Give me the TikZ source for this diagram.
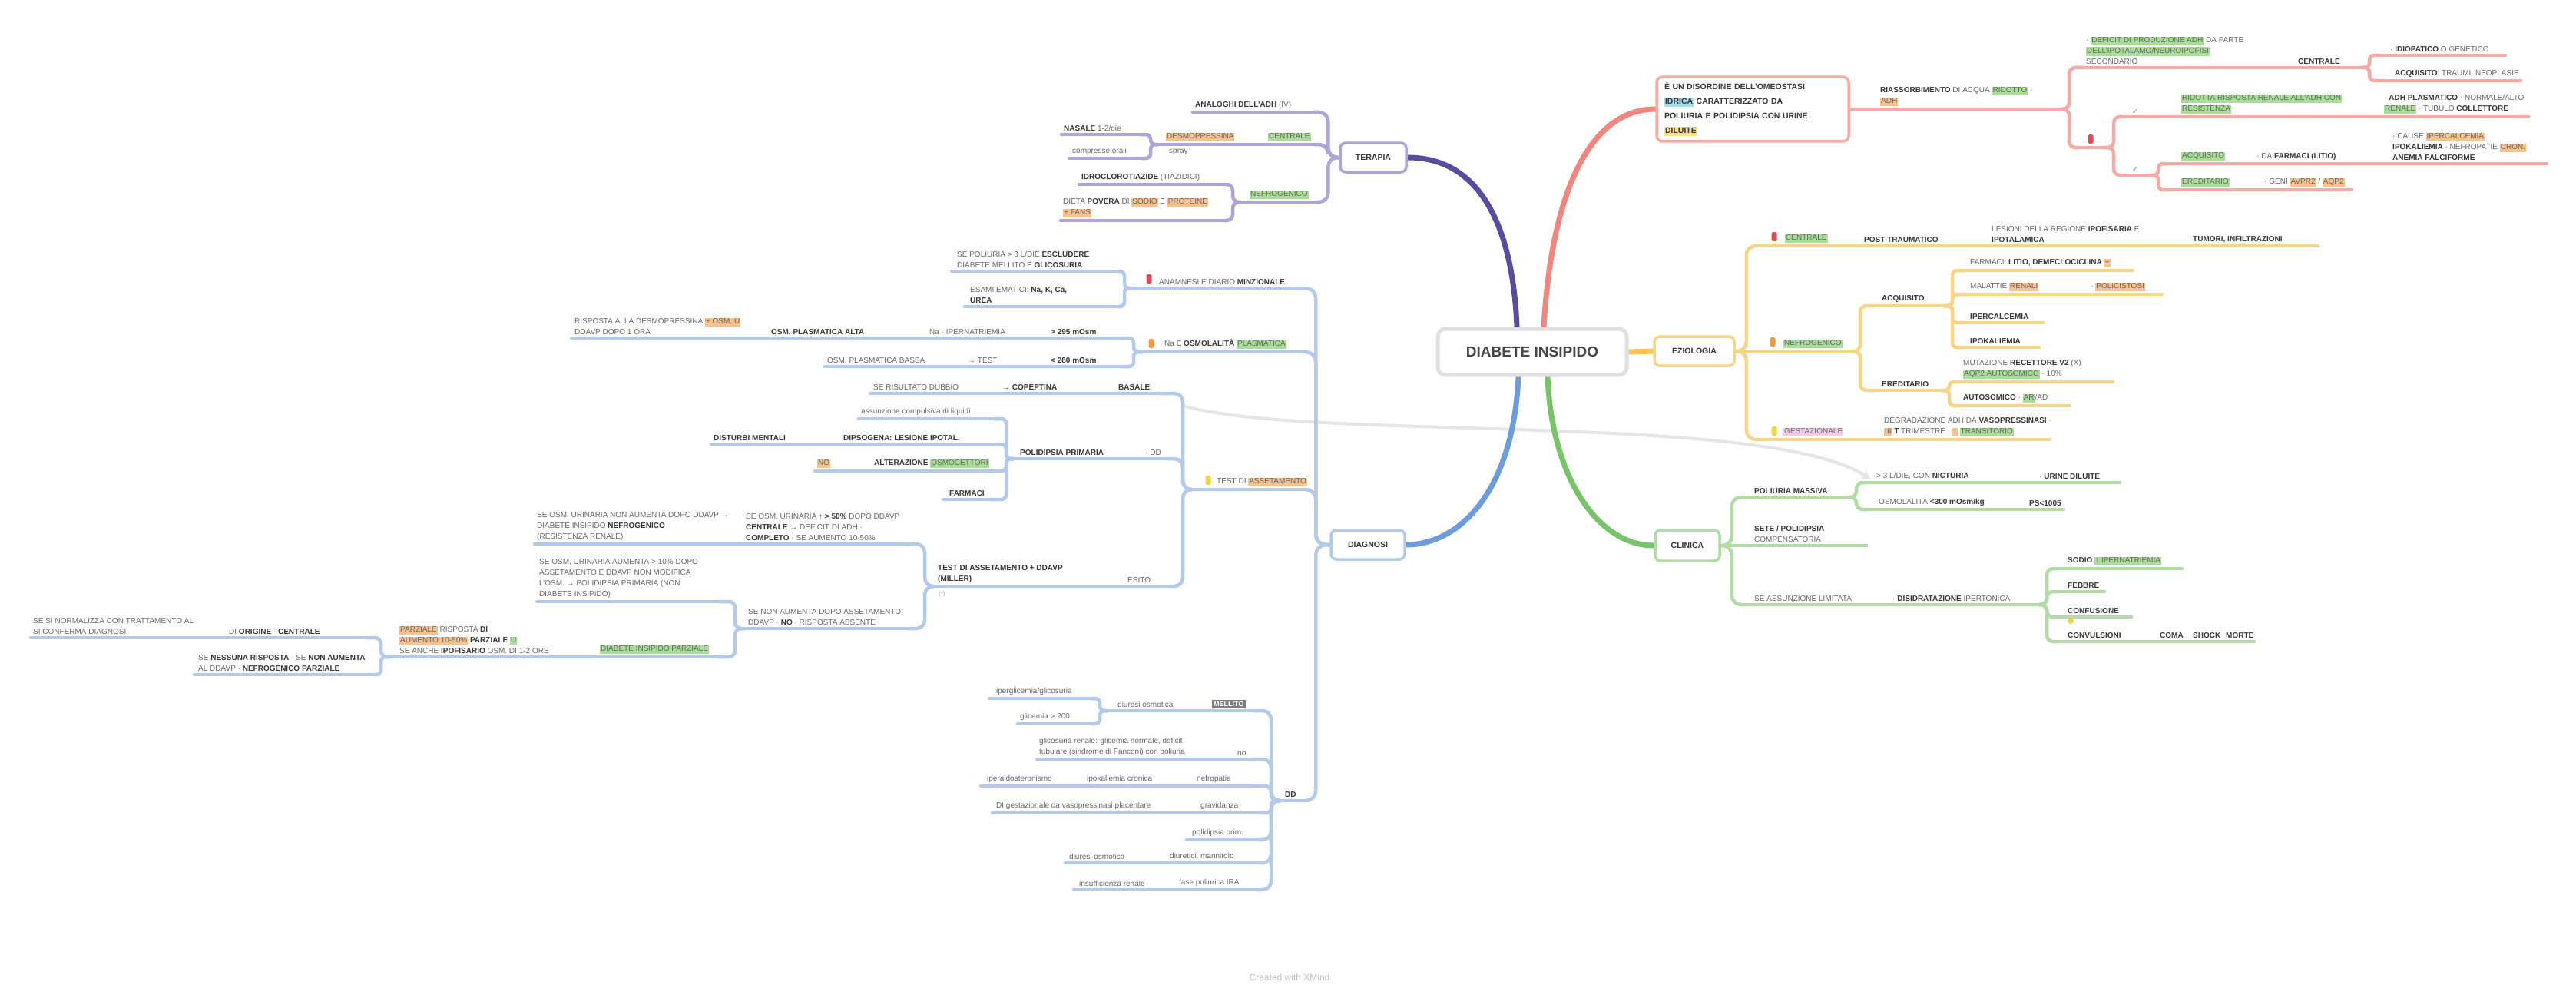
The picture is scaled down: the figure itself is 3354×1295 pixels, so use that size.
\documentclass[tikz,border=0pt]{standalone}
\usepackage{fontspec}
\setmainfont{Liberation Sans}
\newfontfamily\djv{DejaVu Sans}
\usetikzlibrary{calc,arrows.meta}
\pgfdeclarelayer{bg}
\pgfsetlayers{bg,main}
\definecolor{cRed}{HTML}{F5AAA4}
\definecolor{cRedM}{HTML}{F2857D}
\definecolor{cPur}{HTML}{AEA3DA}
\definecolor{cPurM}{HTML}{5B4B9E}
\definecolor{cYel}{HTML}{F8D584}
\definecolor{cYelM}{HTML}{F6C655}
\definecolor{cGrn}{HTML}{B2DCA5}
\definecolor{cGrnM}{HTML}{78C468}
\definecolor{cBlu}{HTML}{B3CAEA}
\definecolor{cBluM}{HTML}{6C9CDB}
\definecolor{hG}{HTML}{A9DE98}
\definecolor{hO}{HTML}{F8C28C}
\definecolor{hC}{HTML}{A6DDEE}
\definecolor{hY}{HTML}{F8E38A}
\definecolor{hP}{HTML}{F7CDEB}
\definecolor{hD}{HTML}{7E7E7E}
\definecolor{tx}{HTML}{666666}
\definecolor{tb}{HTML}{363636}
\definecolor{mkR}{HTML}{E5484D}
\definecolor{mkO}{HTML}{F29B38}
\definecolor{mkY}{HTML}{F2D43D}
\definecolor{chk}{HTML}{4CAF50}
\newcommand\hl[2]{{\setlength{\fboxsep}{1pt}\colorbox{#1}{\vphantom{Ag}#2}}}
\newcommand\B[1]{\textbf{\textcolor{tb}{#1}}}
\newcommand\UL[5]{\coordinate (#1l) at (#2,#4);\coordinate (#1r) at (#3,#4);\draw[ul,#5] (#1l) -- (#1r);}
\newcommand\TX[4]{\node[txt] (#1) at (#2,#3) {#4};}
\newcommand\CN[5][8]{\draw[cn,#2,rounded corners=#1pt] (#3) -- ++(#4,0) |- (#5);}
\newcommand\MK[4]{\node[rectangle,rounded corners=2.5pt,fill=#4,inner sep=0pt,minimum width=7pt,minimum height=12pt] (#1) at (#2,#3) {};}
\begin{document}
\begin{tikzpicture}[x=1pt,y=-1pt,
 txt/.style={inner sep=0pt,anchor=south west,align=left,font=\fontsize{10}{14}\selectfont,text=tx},
 ul/.style={line width=4.5pt,line cap=round},
 cn/.style={line width=4.5pt},
 mainln/.style={line width=7pt,line cap=round},
 topbox/.style={draw,line width=3.5pt,rounded corners=7pt,fill=white,inner xsep=8pt,inner ysep=6pt,font=\fontsize{10.5}{14}\selectfont\bfseries,text=tb}]
\useasboundingbox (0,0) rectangle (3354,1295);

% ---------- center ----------
\node[draw=black!12,line width=5pt,rounded corners=10pt,fill=white,minimum width=246pt,minimum height=60pt,font=\fontsize{19}{22}\selectfont\bfseries,text=black!72] (root) at (1995,458) {DIABETE INSIPIDO};

% ---------- TERAPIA ----------
\node[topbox,draw=cPur,minimum width=86pt,minimum height=38pt] (ter) at (1788,205) {TERAPIA};
\UL{t1}{1553}{1711}{146}{cPur}
\TX{t1x}{1556}{142}{\B{ANALOGHI DELL'ADH} (IV)}
\UL{t2}{1508}{1711}{188}{cPur}
\TX{t2g}{1651}{184}{\hl{hG}{CENTRALE}}
\TX{t2o}{1518}{184}{\hl{hO}{DESMOPRESSINA}}
\node[txt,anchor=north west] (t2s) at (1522,194) {spray};
\UL{t2a}{1382}{1484}{175}{cPur}
\TX{t2ax}{1385}{171}{\B{NASALE} 1-2/die}
\UL{t2b}{1392}{1486}{206}{cPur}
\TX{t2bx}{1396}{202}{compresse orali}
\UL{t3}{1615}{1715}{263}{cPur}
\TX{t3g}{1627}{259}{\hl{hG}{NEFROGENICO}}
\UL{t3a}{1405}{1595}{240}{cPur}
\TX{t3ax}{1408}{236}{\B{IDROCLOROTIAZIDE} (TIAZIDICI)}
\UL{t3b}{1381}{1594}{287}{cPur}
\TX{t3bx}{1384}{283}{DIETA \B{POVERA} DI \hl{hO}{SODIO} E \hl{hO}{PROTEINE}\\\hl{hO}{+ FANS}}

% ---------- RED ----------
\node[topbox,draw=cRed,text width=230pt,font=\fontsize{10.5}{19}\selectfont\bfseries,inner xsep=10pt,inner ysep=7pt] (rbox) at (2282,142) {È UN \B{DISORDINE} DELL'OMEOSTASI\\\hl{hC}{IDRICA} CARATTERIZZATO DA\\POLIURIA E POLIDIPSIA CON URINE\\\hl{hY}{DILUITE}};
\UL{r1}{2409}{2684}{142}{cRed}
\TX{r1x}{2448}{138}{\B{RIASSORBIMENTO} DI ACQUA \hl{hG}{RIDOTTO} ·\\\hl{hO}{ADH}}
\UL{r2}{2712}{3075}{88}{cRed}
\TX{r2x}{2716}{84}{· \hl{hG}{DEFICIT DI PRODUZIONE ADH} DA PARTE\\\hl{hG}{DELL'IPOTALAMO/NEUROIPOFISI}\\SECONDARIO}
\TX{r2c}{2992}{84}{\B{CENTRALE}}
\UL{r2a}{3098}{3262}{72}{cRed}
\TX{r2ax}{3112}{68}{· \B{IDIOPATICO} O GENETICO}
\UL{r2b}{3098}{3282}{105}{cRed}
\TX{r2bx}{3118}{101}{\B{ACQUISITO}: TRAUMI, NEOPLASIE}
\MK{r3m}{2722}{181}{mkR}
\UL{r3}{2706}{2742}{192}{cRed}
\UL{r3a}{2762}{3292}{152}{cRed}
\node[txt] (r3ack) at (2776,149) {\djv\textcolor{chk}{✓}};
\TX{r3ax}{2840}{148}{\hl{hG}{RIDOTTA RISPOSTA RENALE ALL'ADH CON}\\\hl{hG}{RESISTENZA}}
\TX{r3ay}{3104}{148}{· \B{ADH PLASMATICO} · NORMALE/ALTO\\\hl{hG}{RENALE} · TUBULO \B{COLLETTORE}}
\UL{r3b}{2762}{2800}{228}{cRed}
\node[txt] (r3bck) at (2776,224) {\djv\textcolor{chk}{✓}};
\UL{r3c}{2822}{3316}{213}{cRed}
\TX{r3cx}{2840}{209}{\hl{hG}{ACQUISITO}}
\TX{r3cy}{2938}{209}{· DA \B{FARMACI (LITIO)}}
\TX{r3cz}{3115}{209}{· CAUSE \hl{hO}{IPERCALCEMIA}\\\B{IPOKALIEMIA} · NEFROPATIE \hl{hO}{CRON.}\\\B{ANEMIA FALCIFORME}}
\UL{r3d}{2822}{3062}{247}{cRed}
\TX{r3dx}{2840}{243}{\hl{hG}{EREDITARIO}}
\TX{r3dy}{2948}{243}{· GENI \hl{hO}{AVPR2} / \hl{hO}{AQP2}}

% ---------- YELLOW ----------
\node[topbox,draw=cYel,minimum width=104pt,minimum height=38pt] (ezi) at (2206,457) {EZIOLOGIA};
\UL{y1}{2290}{3018}{320}{cYel}
\MK{y1m}{2310}{308}{mkR}
\TX{y1g}{2324}{316}{\hl{hG}{CENTRALE}}
\TX{y1a}{2427}{316}{\B{POST-TRAUMATICO} ·}
\TX{y1b}{2593}{316}{LESIONI DELLA REGIONE \B{IPOFISARIA} E\\\B{IPOTALAMICA}}
\TX{y1c}{2855}{316}{\B{TUMORI, INFILTRAZIONI}}
\UL{y2}{2258}{2410}{457}{cYel}
\MK{y2m}{2308}{445}{mkO}
\TX{y2g}{2322}{453}{\hl{hG}{NEFROGENICO}}
\UL{y2a}{2440}{2530}{398}{cYel}
\TX{y2ax}{2450}{394}{\B{ACQUISITO}}
\UL{y2a1}{2558}{2777}{352}{cYel}
\TX{y2a1x}{2565}{348}{FARMACI: \B{LITIO, DEMECLOCICLINA} \hl{hO}{+}}
\UL{y2a2}{2558}{2815}{383}{cYel}
\TX{y2a2x}{2565}{379}{MALATTIE \hl{hO}{RENALI}}
\TX{y2a2y}{2722}{379}{· \hl{hO}{POLICISTOSI}}
\UL{y2a3}{2558}{2660}{420}{cYel}
\TX{y2a3x}{2565}{416}{\B{IPERCALCEMIA}}
\UL{y2a4}{2558}{2655}{452}{cYel}
\TX{y2a4x}{2565}{448}{\B{IPOKALIEMIA}}
\UL{y2b}{2440}{2528}{508}{cYel}
\TX{y2bx}{2450}{504}{\B{EREDITARIO}}
\UL{y2b1}{2552}{2751}{497}{cYel}
\TX{y2b1x}{2556}{493}{MUTAZIONE \B{RECETTORE V2} (X)\\\hl{hG}{AQP2 AUTOSOMICO} · 10\%}
\UL{y2b2}{2552}{2694}{528}{cYel}
\TX{y2b2x}{2556}{524}{\B{AUTOSOMICO} · \hl{hG}{AR}/AD}
\UL{y3}{2290}{2668}{572}{cYel}
\MK{y3m}{2310}{561}{mkY}
\TX{y3g}{2322}{568}{\hl{hP}{GESTAZIONALE}}
\TX{y3x}{2453}{568}{DEGRADAZIONE ADH DA \B{VASOPRESSINASI} ·\\\hl{hO}{III} \B{T} TRIMESTRE · \hl{hO}{↑} \hl{hG}{TRANSITORIO}}

% ---------- GREEN ----------
\node[topbox,draw=cGrn,minimum width=84pt,minimum height=40pt] (cli) at (2197,710) {CLINICA};
\UL{g1}{2271}{2407}{647}{cGrn}
\TX{g1x}{2284}{643}{\B{POLIURIA MASSIVA}}
\UL{g1a}{2430}{2760}{628}{cGrn}
\TX{g1ax}{2443}{624}{> 3 L/DIE, CON \B{NICTURIA}}
\TX{g1ay}{2655}{624}{· \B{URINE DILUITE}}
\UL{g1b}{2430}{2687}{663}{cGrn}
\TX{g1bx}{2446}{659}{OSMOLALITÀ \B{<300 mOsm/kg}}
\TX{g1by}{2642}{659}{\B{PS<1005}}
\UL{g2}{2239}{2430}{710}{cGrn}
\TX{g2x}{2284}{706}{\B{SETE / POLIDIPSIA}\\COMPENSATORIA}
\UL{g3}{2271}{2655}{787}{cGrn}
\TX{g3x}{2284}{783}{SE ASSUNZIONE LIMITATA}
\TX{g3y}{2464}{783}{· \B{DISIDRATAZIONE} IPERTONICA}
\UL{g3a}{2680}{2841}{740}{cGrn}
\TX{g3ax}{2692}{736}{\B{SODIO} \hl{hG}{↑ IPERNATRIEMIA}}
\UL{g3b}{2680}{2740}{770}{cGrn}
\TX{g3bx}{2692}{766}{\B{FEBBRE}}
\UL{g3c}{2680}{2775}{803}{cGrn}
\TX{g3cx}{2692}{799}{\B{CONFUSIONE}}
\node[circle,fill=mkY,inner sep=0pt,minimum size=8pt] (g3cm) at (2696,808) {};
\UL{g3d}{2680}{2935}{835}{cGrn}
\TX{g3dx}{2692}{831}{\B{CONVULSIONI}}
\TX{g3dy}{2812}{831}{\B{COMA}}
\TX{g3dz}{2855}{831}{\B{SHOCK}}
\TX{g3dw}{2898}{831}{\B{MORTE}}

% ---------- BLUE ----------
\node[topbox,draw=cBlu,minimum width=96pt,minimum height=38pt] (dia) at (1781,709) {DIAGNOSI};
\UL{d1}{1474}{1698}{375}{cBlu}
\MK{d1m}{1496}{363}{mkR}
\TX{d1x}{1509}{371}{ANAMNESI E DIARIO \B{MINZIONALE}}
\UL{d1a}{1239}{1455}{353}{cBlu}
\TX{d1ax}{1246}{349}{SE POLIURIA > 3 L/DIE \B{ESCLUDERE}\\DIABETE MELLITO E \B{GLICOSURIA}}
\UL{d1b}{1256}{1455}{399}{cBlu}
\TX{d1bx}{1263}{395}{ESAMI EMATICI: \B{Na, K, Ca,}\\\B{UREA}}
\UL{d2}{1488}{1701}{458}{cBlu}
\MK{d2m}{1499}{447}{mkO}
\TX{d2x}{1516}{454}{Na E \B{OSMOLALITÀ} \hl{hG}{PLASMATICA}}
\UL{d2a}{744}{1460}{440}{cBlu}
\TX{d2ax}{748}{436}{RISPOSTA ALLA DESMOPRESSINA \hl{hO}{+ OSM. U}\\DDAVP DOPO 1 ORA}
\TX{d2ay}{1004}{436}{\B{OSM. PLASMATICA ALTA}}
\TX{d2az}{1210}{436}{Na · IPERNATRIEMIA}
\TX{d2aw}{1368}{436}{\B{> 295 mOsm}}
\UL{d2b}{1074}{1460}{477}{cBlu}
\TX{d2bx}{1077}{473}{OSM. PLASMATICA BASSA}
\TX{d2by}{1260}{473}{→ TEST}
\TX{d2bz}{1368}{473}{\B{< 280 mOsm}}
\UL{dy}{1552}{1700}{637}{cBlu}
\MK{dym}{1573}{625}{mkY}
\TX{dyx}{1584}{633}{TEST DI \hl{hO}{ASSETAMENTO}}
\UL{d3}{1133}{1511}{512}{cBlu}
\TX{d3x}{1137}{508}{SE RISULTATO DUBBIO}
\TX{d3y}{1305}{508}{\B{→ COPEPTINA}}
\TX{d3z}{1456}{508}{\B{BASALE}}
\coordinate (relS) at (1540,528);
\UL{d4}{1320}{1520}{597}{cBlu}
\TX{d4x}{1328}{593}{\B{POLIDIPSIA PRIMARIA}}
\TX{d4y}{1491}{593}{· DD}
\UL{d4a}{1118}{1294}{545}{cBlu}
\TX{d4ax}{1121}{541}{assunzione compulsiva di liquidi}
\UL{d4b}{926}{1298}{578}{cBlu}
\TX{d4bx}{929}{574}{\B{DISTURBI MENTALI}}
\TX{d4by}{1098}{574}{\B{DIPSOGENA: LESIONE IPOTAL.}}
\UL{d4c}{1061}{1296}{613}{cBlu}
\TX{d4cx}{1064}{609}{\hl{hO}{NO}}
\TX{d4cy}{1138}{609}{\B{ALTERAZIONE} \hl{hG}{OSMOCETTORI}}
\UL{d4d}{1228}{1290}{650}{cBlu}
\TX{d4dx}{1236}{646}{\B{FARMACI}}
\UL{d5}{1216}{1524}{763}{cBlu}
\TX{d5x}{1221}{759}{\B{TEST DI ASSETAMENTO + DDAVP}\\\B{(MILLER)}}
\TX{d5y}{1468}{759}{ESITO}
\node[txt,anchor=north west,font=\fontsize{8}{9}\selectfont,text=black!35] (d5n) at (1222,769) {(*)};
\UL{d5a}{696}{1182}{708}{cBlu}
\TX{d5ax}{699}{704}{SE OSM. URINARIA NON AUMENTA DOPO DDAVP →\\DIABETE INSIPIDO \B{NEFROGENICO}\\(RESISTENZA RENALE)}
\TX{d5ay}{971}{704}{SE OSM. URINARIA \B{↑ > 50\%} DOPO DDAVP\\\B{CENTRALE} → DEFICIT DI ADH ·\\\B{COMPLETO} · SE AUMENTO 10-50\%}
\UL{d5b}{969}{1182}{818}{cBlu}
\TX{d5bx}{974}{814}{SE NON AUMENTA DOPO ASSETAMENTO\\DDAVP · \B{NO} · RISPOSTA ASSENTE}
\UL{d5c}{699}{935}{783}{cBlu}
\TX{d5cx}{702}{779}{SE OSM. URINARIA AUMENTA > 10\% DOPO\\ASSETAMENTO E DDAVP NON MODIFICA\\L'OSM. → POLIDIPSIA PRIMARIA (NON\\DIABETE INSIPIDO)}
\UL{d5d}{508}{935}{855}{cBlu}
\TX{d5dx}{520}{851}{\hl{hO}{PARZIALE} RISPOSTA \B{DI}\\\hl{hO}{AUMENTO 10-50\%} \B{PARZIALE} \hl{hG}{U}\\SE ANCHE \B{IPOFISARIO} OSM. DI 1-2 ORE}
\TX{d5dy}{781}{851}{\hl{hG}{DIABETE INSIPIDO PARZIALE}}
\UL{d5e}{40}{476}{830}{cBlu}
\TX{d5ex}{43}{826}{SE SI NORMALIZZA CON TRATTAMENTO AL\\SI CONFERMA DIAGNOSI}
\TX{d5ey}{298}{826}{DI \B{ORIGINE} · \B{CENTRALE}}
\UL{d5f}{253}{488}{878}{cBlu}
\TX{d5fx}{258}{874}{SE \B{NESSUNA RISPOSTA} · SE \B{NON AUMENTA}\\AL DDAVP · \B{NEFROGENICO PARZIALE}}
\UL{d6}{1667}{1700}{1042}{cBlu}
\TX{d6x}{1673}{1038}{\B{DD}}
\UL{k1}{1442}{1632}{925}{cBlu}
\node[txt,fill=hD,text=white,inner sep=2pt,font=\fontsize{9}{11}\selectfont\bfseries] (k1d) at (1578,922) {MELLITO};
\TX{k1x}{1455}{921}{diuresi osmotica}
\UL{k1a}{1288}{1420}{909}{cBlu}
\TX{k1ax}{1297}{905}{iperglicemia/glicosuria}
\UL{k1b}{1325}{1420}{942}{cBlu}
\TX{k1bx}{1328}{938}{glicemia > 200}
\UL{k2}{1350}{1630}{988}{cBlu}
\TX{k2x}{1353}{984}{glicosuria renale: glicemia normale, deficit\\tubulare (sindrome di Fanconi) con poliuria}
\TX{k2y}{1611}{984}{no}
\UL{k3}{1277}{1633}{1023}{cBlu}
\TX{k3x}{1285}{1019}{iperaldosteronismo}
\TX{k3y}{1415}{1019}{ipokaliemia cronica}
\TX{k3z}{1558}{1019}{nefropatia}
\UL{k4}{1292}{1643}{1058}{cBlu}
\TX{k4x}{1297}{1054}{DI gestazionale da vasopressinasi placentare}
\TX{k4y}{1563}{1054}{gravidanza}
\UL{k5}{1545}{1637}{1093}{cBlu}
\TX{k5x}{1552}{1089}{polidipsia prim.}
\UL{k6}{1387}{1640}{1123}{cBlu}
\TX{k6x}{1392}{1119}{diuresi osmotica}
\TX{k6y}{1523}{1119}{diuretici, mannitolo}
\UL{k7}{1398}{1637}{1158}{cBlu}
\TX{k7x}{1405}{1154}{insufficienza renale}
\TX{k7y}{1535}{1154}{fase poliurica IRA}

\node[font=\fontsize{12}{14}\selectfont,text=black!25] (foot) at (1679,1272) {Created with XMind};

% ---------- connectors (background) ----------
\begin{pgfonlayer}{bg}
\fill[white] (0,0) rectangle (3354,1295);
\coordinate (relE) at (2436,624);
\draw[line width=4pt,draw=black!10,-{Stealth[length=13pt,width=13pt]}] (relS) .. controls (1700,575) and (2300,535) .. (relE);
% main branches
\draw[mainln,cPurM] ([xshift=-20pt]root.north) .. controls (1970,300) and (1930,205) .. (ter.east);
\draw[mainln,cRedM] ([xshift=15pt]root.north) .. controls (2020,250) and (2070,142) .. (rbox.west);
\draw[mainln,cYelM] (root.east) -- (ezi.west);
\draw[mainln,cGrnM] ([xshift=20pt]root.south) .. controls (2020,620) and (2080,710) .. (cli.west);
\draw[mainln,cBluM] ([xshift=-18pt]root.south) .. controls (1970,640) and (1900,709) .. (dia.east);
% terapia
\CN[12]{cPur}{ter.west}{-14}{t1r}
\CN[12]{cPur}{ter.west}{-14}{t2r}
\CN[12]{cPur}{ter.west}{-14}{t3r}
\CN[6]{cPur}{t2l}{-10}{t2ar}
\CN[6]{cPur}{t2l}{-10}{t2br}
\CN{cPur}{t3l}{-10}{t3ar}
\CN{cPur}{t3l}{-10}{t3br}
% red
\CN{cRed}{r1r}{10}{r2l}
\CN{cRed}{r1r}{10}{r3l}
\CN[6]{cRed}{r2r}{10}{r2al}
\CN[6]{cRed}{r2r}{10}{r2bl}
\CN{cRed}{r3r}{10}{r3al}
\CN{cRed}{r3r}{10}{r3bl}
\CN[6]{cRed}{r3br}{10}{r3cl}
\CN[6]{cRed}{r3br}{10}{r3dl}
% yellow
\CN[12]{cYel}{ezi.east}{14}{y1l}
\CN[12]{cYel}{ezi.east}{14}{y3l}
\CN{cYel}{y2r}{12}{y2al}
\CN{cYel}{y2r}{12}{y2bl}
\CN[6]{cYel}{y2ar}{12}{y2a1l}
\CN[6]{cYel}{y2ar}{12}{y2a2l}
\CN[6]{cYel}{y2ar}{12}{y2a3l}
\CN[6]{cYel}{y2ar}{12}{y2a4l}
\CN[5]{cYel}{y2br}{10}{y2b1l}
\CN[6]{cYel}{y2br}{10}{y2b2l}
% green
\CN[12]{cGrn}{cli.east}{14}{g1l}
\CN[12]{cGrn}{cli.east}{14}{g3l}
\CN{cGrn}{g1r}{10}{g1al}
\CN{cGrn}{g1r}{10}{g1bl}
\CN{cGrn}{g3r}{10}{g3al}
\CN{cGrn}{g3r}{10}{g3bl}
\CN{cGrn}{g3r}{10}{g3cl}
\CN{cGrn}{g3r}{10}{g3dl}
% blue
\CN[13]{cBlu}{dia.west}{-18}{d1r}
\CN[13]{cBlu}{dia.west}{-18}{d2r}
\CN[13]{cBlu}{dia.west}{-18}{dyr}
\CN[13]{cBlu}{dia.west}{-18}{d6r}
\CN[6]{cBlu}{d1l}{-10}{d1ar}
\CN[6]{cBlu}{d1l}{-10}{d1br}
\CN[6]{cBlu}{d2l}{-12}{d2ar}
\CN[6]{cBlu}{d2l}{-12}{d2br}
\CN[11]{cBlu}{dyl}{-12}{d3r}
\CN[11]{cBlu}{dyl}{-12}{d4r}
\CN[11]{cBlu}{dyl}{-12}{d5r}
\CN[6]{cBlu}{d4l}{-10}{d4ar}
\CN[6]{cBlu}{d4l}{-10}{d4br}
\CN[6]{cBlu}{d4l}{-10}{d4cr}
\CN[6]{cBlu}{d4l}{-10}{d4dr}
\CN[11]{cBlu}{d5l}{-12}{d5ar}
\CN[11]{cBlu}{d5l}{-12}{d5br}
\CN[8]{cBlu}{d5bl}{-12}{d5cr}
\CN[8]{cBlu}{d5bl}{-12}{d5dr}
\CN[8]{cBlu}{d5dl}{-12}{d5er}
\CN[6]{cBlu}{d5dl}{-12}{d5fr}
\CN[11]{cBlu}{d6l}{-12}{k1r}
\CN[11]{cBlu}{d6l}{-12}{k2r}
\CN{cBlu}{d6l}{-12}{k3r}
\CN[6]{cBlu}{d6l}{-12}{k4r}
\CN[11]{cBlu}{d6l}{-12}{k5r}
\CN[11]{cBlu}{d6l}{-12}{k6r}
\CN[11]{cBlu}{d6l}{-12}{k7r}
\CN[6]{cBlu}{k1l}{-10}{k1ar}
\CN[6]{cBlu}{k1l}{-10}{k1br}
\end{pgfonlayer}
\end{tikzpicture}
\end{document}
